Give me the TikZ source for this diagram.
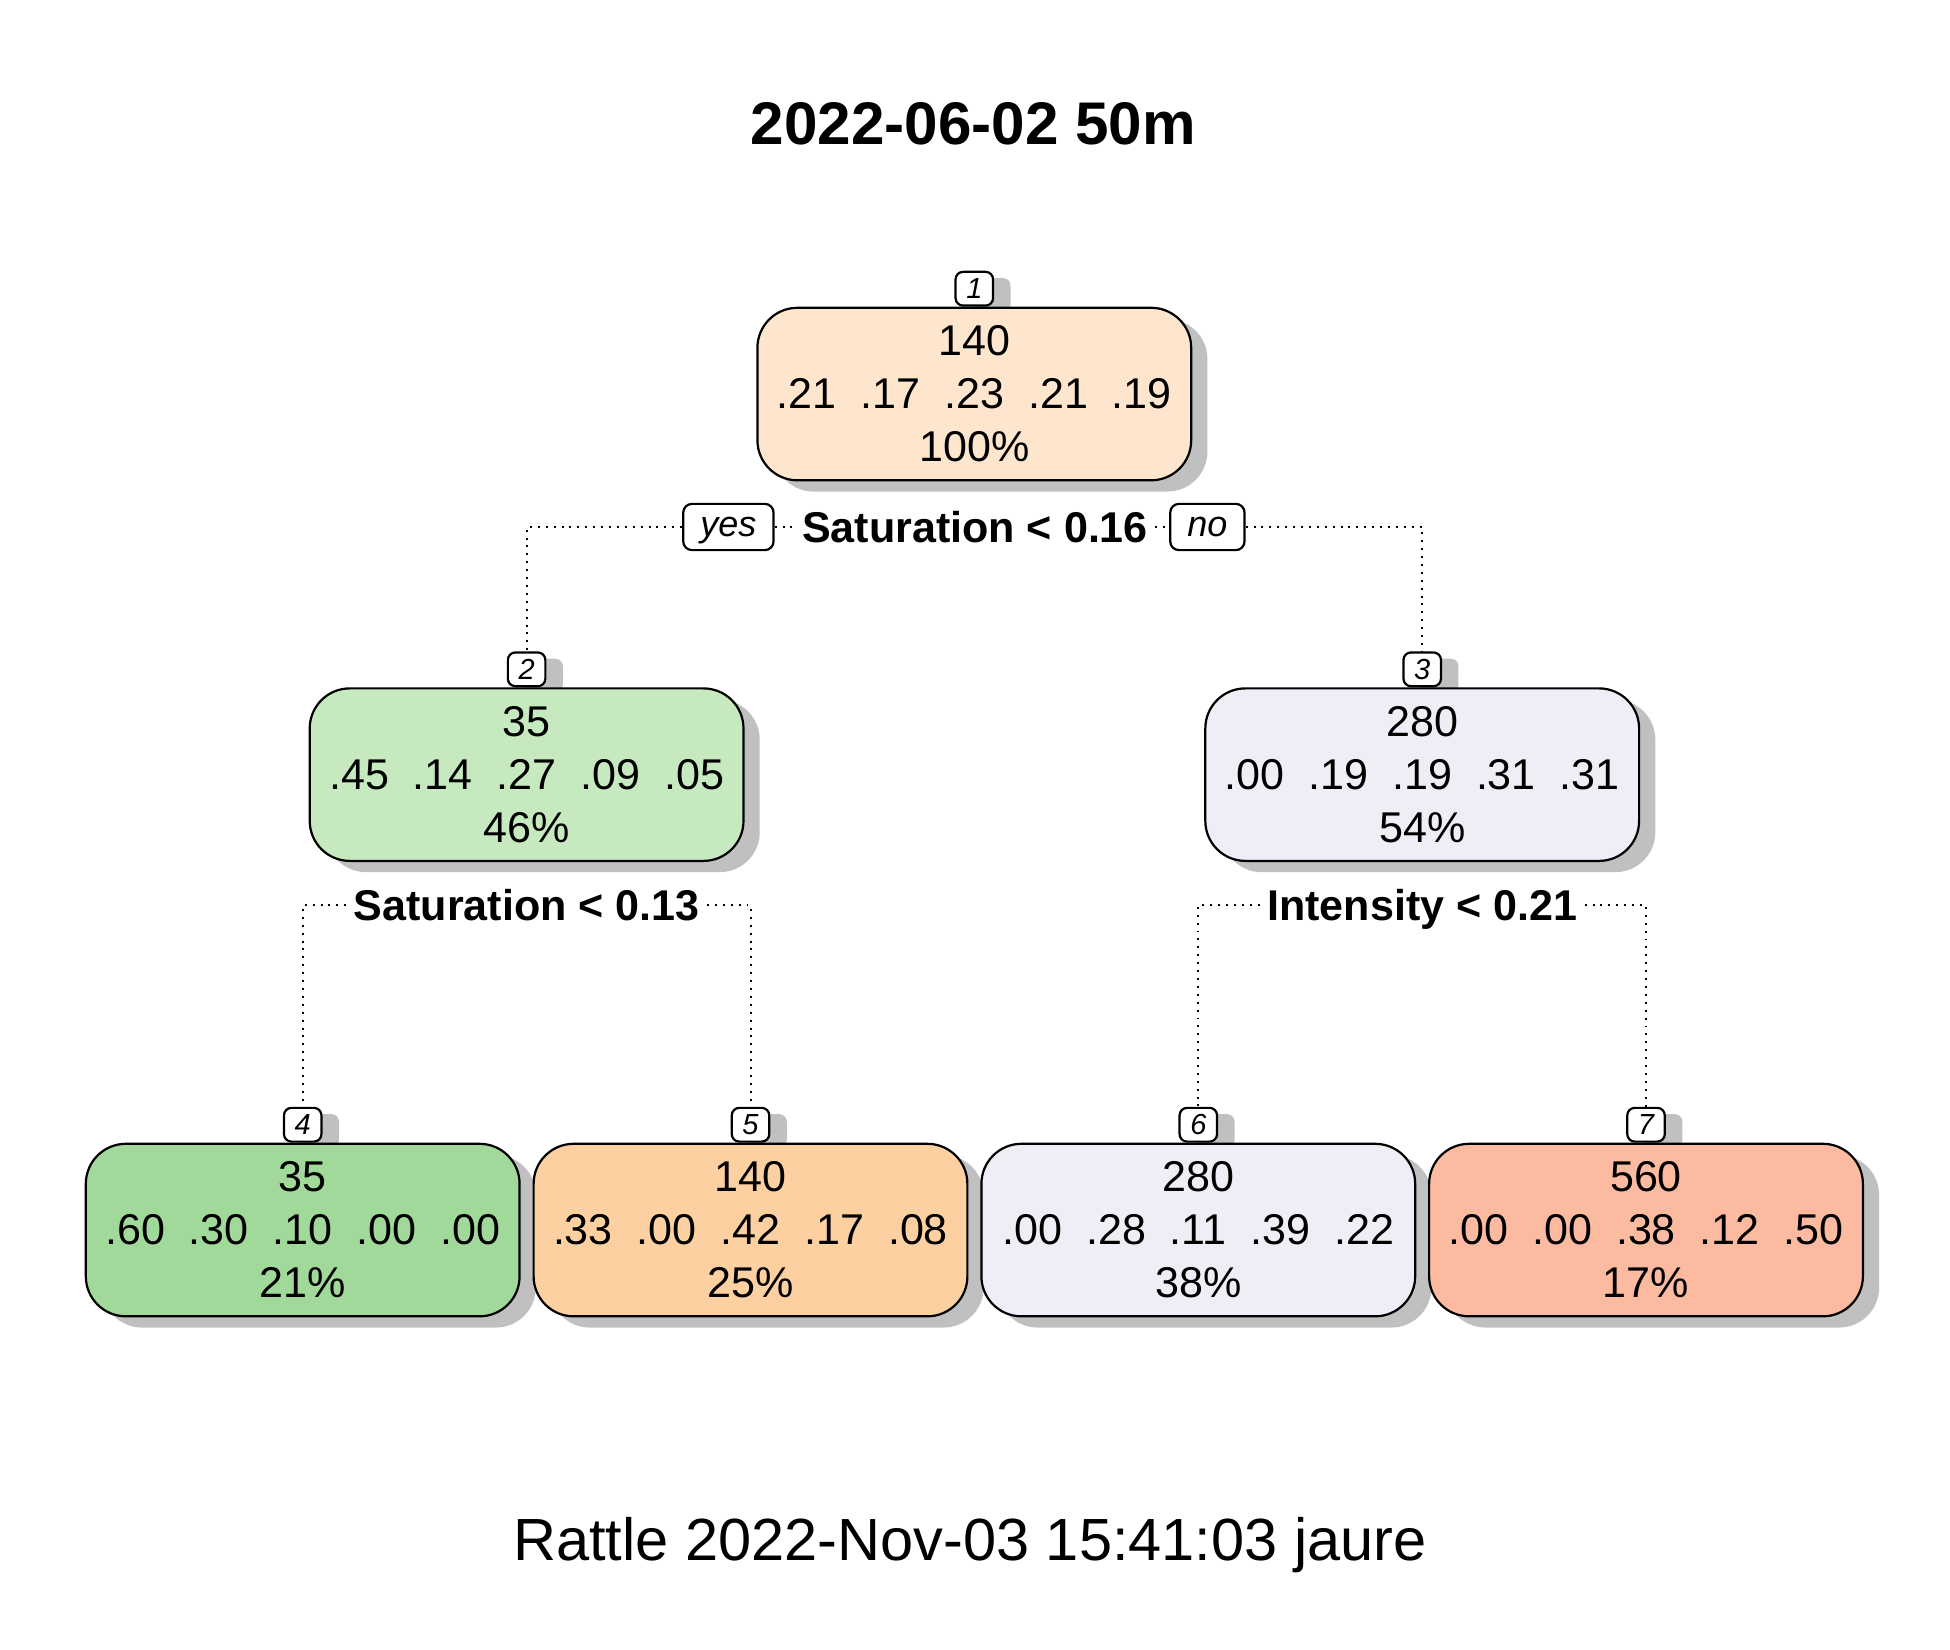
\documentclass[tikz,border=0pt]{standalone}
\usepackage{fontspec}
\setmainfont{Liberation Sans}
\usepackage{xcolor}
\usepackage{tikz}
\usetikzlibrary{positioning,shadows}
\definecolor{peachA}{HTML}{FEE6CE}
\definecolor{greenA}{HTML}{C7E9C0}
\definecolor{lilacA}{HTML}{EFEDF5}
\definecolor{greenB}{HTML}{A1D99B}
\definecolor{peachB}{HTML}{FDD0A2}
\definecolor{redA}{HTML}{FCBBA1}
\definecolor{shadowgray}{HTML}{C0C0C0}
\tikzset{
  treenode/.style={
    rectangle, rounded corners=3.2mm, draw, line width=0.5pt,
    minimum width=34.7mm, minimum height=13.8mm, inner sep=0pt,
    align=center, font=\fontsize{9.8}{12.07}\selectfont,
    drop shadow={shadow xshift=1.3mm, shadow yshift=-0.9mm,
      fill=shadowgray, opacity=1}
  },
  idbox/.style={
    rectangle, rounded corners=0.6mm, draw, line width=0.5pt, fill=white,
    anchor=south, minimum width=3mm, minimum height=2.7mm, inner sep=0pt,
    font=\fontsize{6.6}{7}\selectfont\itshape,
    drop shadow={shadow xshift=1.4mm, shadow yshift=-0.5mm,
      fill=shadowgray, opacity=1}
  },
  splitlabel/.style={
    font=\fontsize{9.8}{12}\selectfont\bfseries,
    inner xsep=1.5pt, inner ysep=0pt, text height=7pt, text depth=0pt
  },
  yesno/.style={
    rectangle, rounded corners=0.7mm, draw, line width=0.5pt, fill=white,
    minimum height=3.7mm, inner xsep=3.9pt, inner ysep=0pt,
    text height=5.9pt, text depth=1.7pt,
    font=\fontsize{8.2}{9}\selectfont\itshape
  },
  dotline/.style={line width=0.45pt, dash pattern=on 0.45pt off 1.35pt},
  headline/.style={font=\fontsize{13.7}{16}\selectfont\bfseries, anchor=base},
  footline/.style={font=\fontsize{13.55}{16}\selectfont, anchor=base},
}

\begin{document}
\begin{tikzpicture}[x=0.08mm, y=-0.08mm]
  \useasboundingbox (0,0) rectangle (1950,1650);

  % Title
  \node[headline] (title) at (973.5,144.5) {2022-06-02 50m};

  % Nodes
  \node[idbox] (lab1) at (974.3,306.7) {1};
  \node[treenode, below=0pt of lab1, fill=peachA] (n1)
    {140\\.21~~.17~~.23~~.21~~.19\\100\%};

  \node[idbox] (lab2) at (526.6,687.3) {2};
  \node[treenode, below=0pt of lab2, fill=greenA] (n2)
    {35\\.45~~.14~~.27~~.09~~.05\\46\%};
  \node[idbox] (lab3) at (1422.2,687.3) {3};
  \node[treenode, below=0pt of lab3, fill=lilacA] (n3)
    {280\\.00~~.19~~.19~~.31~~.31\\54\%};

  \node[idbox] (lab4) at (302.7,1142.7) {4};
  \node[treenode, below=0pt of lab4, fill=greenB] (n4)
    {35\\.60~~.30~~.10~~.00~~.00\\21\%};
  \node[idbox] (lab5) at (750.5,1142.7) {5};
  \node[treenode, below=0pt of lab5, fill=peachB] (n5)
    {140\\.33~~.00~~.42~~.17~~.08\\25\%};
  \node[idbox] (lab6) at (1198.3,1142.7) {6};
  \node[treenode, below=0pt of lab6, fill=lilacA] (n6)
    {280\\.00~~.28~~.11~~.39~~.22\\38\%};
  \node[idbox] (lab7) at (1646,1142.7) {7};
  \node[treenode, below=0pt of lab7, fill=redA] (n7)
    {560\\.00~~.00~~.38~~.12~~.50\\17\%};

  % Splits
  \node[splitlabel] (split1) at (975,527) {Saturation < 0.16};
  \node[yesno, left=1.6mm of split1] (yes) {yes};
  \node[yesno, right=1.1mm of split1] (no) {no};
  \node[splitlabel] (split2) at (526.6,905) {Saturation < 0.13};
  \node[splitlabel] (split3) at (1422.2,905) {Intensity < 0.21};

  % Branches
  \draw[dotline] (yes.west) -| (lab2.north);
  \draw[dotline] (yes) -- (split1);
  \draw[dotline] (split1) -- (no);
  \draw[dotline] (no.east) -| (lab3.north);
  \draw[dotline] (split2.west) -| (lab4.north);
  \draw[dotline] (split2.east) -| (lab5.north);
  \draw[dotline] (split3.west) -| (lab6.north);
  \draw[dotline] (split3.east) -| (lab7.north);

  % Footer
  \node[footline] (stamp) at (970,1560) {Rattle 2022-Nov-03 15:41:03 jaure};
\end{tikzpicture}
\end{document}
